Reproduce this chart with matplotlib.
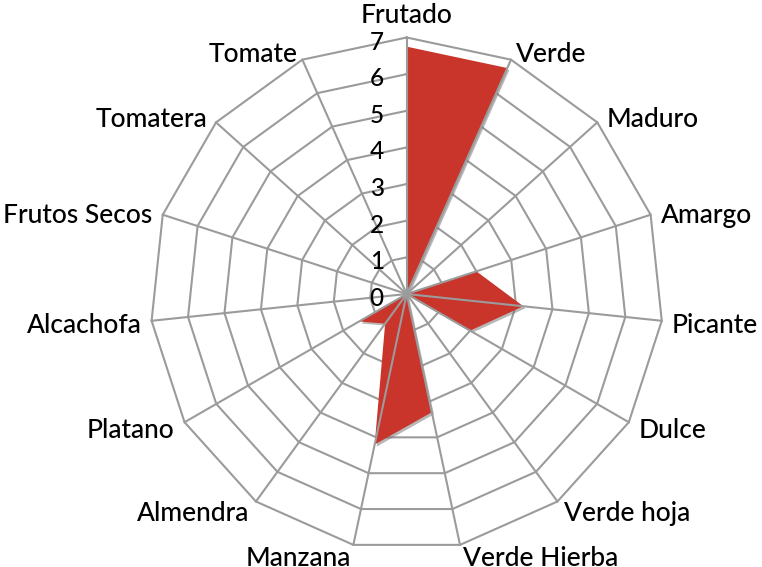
import numpy as np
import matplotlib.pyplot as plt
from matplotlib import patheffects

# datos
categorias = ['Frutado', 'Verde', 'Maduro', 'Amargo', 'Picante', 'Dulce', 'Verde hoja',
              'Verde Hierba', 'Manzana', 'Almendra', 'Platano', 'Alcachofa',
              'Frutos Secos', 'Tomatera', 'Tomate']
valores = [6.75, 6.75, 0, 2.0, 3.2, 2.0, 0, 3.3, 4.2, 1.0, 1.5, 0, 0, 0, 0]
niveles = [0, 1, 2, 3, 4, 5, 6, 7]

ROJO = '#C9342B'
GRIS = '#9B9B9B'
plt.rcParams['font.family'] = ['Lato', 'DejaVu Sans']

n = len(categorias)
ang = np.linspace(0, 2 * np.pi, n, endpoint=False)
ang_c = np.append(ang, ang[0])
rmax = niveles[-1]

fig = plt.figure(figsize=(7.62, 5.67), dpi=100)
ax = fig.add_axes([0.1971, 0.0291, 0.6732, 0.9048], projection='polar')
ax.set_theta_offset(np.pi / 2)
ax.set_theta_direction(-1)
ax.set_ylim(0, rmax)
ax.axis('off')

# anillos poligonales (debajo del relleno)
for r in niveles[1:]:
    ax.plot(ang_c, [r] * (n + 1), color=GRIS, lw=1.5, zorder=1, clip_on=False)

# serie
vals_c = valores + [valores[0]]
sombra = [patheffects.SimplePatchShadow(offset=(1.5, -1.5), shadow_rgbFace='0.45', alpha=0.5),
          patheffects.Normal()]
ax.fill(ang_c, vals_c, color=ROJO, lw=0, zorder=2, path_effects=sombra)

# radios (encima del relleno)
for a in ang:
    ax.plot([a, a], [0, rmax], color=GRIS, lw=1.5, zorder=3, clip_on=False)

# etiquetas del eje de valores
for v in niveles:
    ax.annotate(str(v), xy=(0, v), xytext=(-30, -12), textcoords='offset pixels',
                ha='center', va='baseline', fontsize=17.5, fontweight='medium',
                annotation_clip=False)

# etiquetas de categorias
for a, nombre in zip(ang, categorias):
    s, c = np.sin(a), np.cos(a)
    if abs(s) < 0.01:
        ha, dx, dy = 'center', 0, -24
    else:
        ha = 'left' if s > 0 else 'right'
        dx = np.sign(s) * 10 * min(1, abs(s) * 1.2)
        dy = 2 - 10 * c
    ax.annotate(nombre, xy=(a, rmax), xytext=(dx, -(dy + 9)), textcoords='offset pixels',
                ha=ha, va='baseline', fontsize=19, fontweight='medium', annotation_clip=False)

fig.savefig('out.png', dpi=100)
